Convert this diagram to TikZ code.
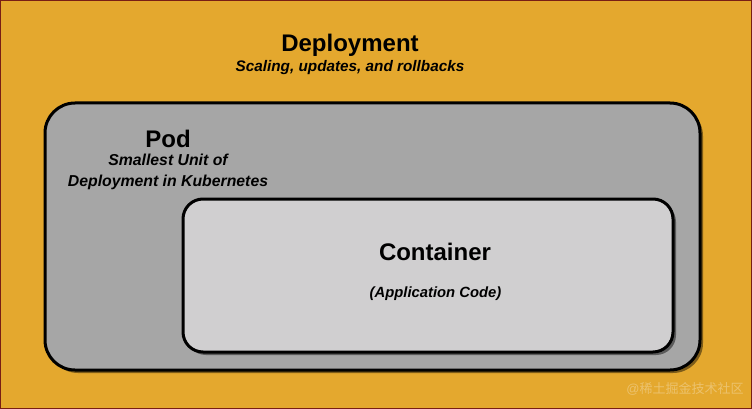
\documentclass[tikz,border=0pt]{standalone}
\usepackage{fontspec}
\setmainfont{Liberation Sans}
\newfontfamily\cjkfont{Noto Sans CJK SC}
\usetikzlibrary{shadows}
\definecolor{dep_orange}{RGB}{228, 168, 46}
\definecolor{dep_edge}{RGB}{120, 30, 20}
\definecolor{pod_gray}{RGB}{166, 166, 166}
\definecolor{ctr_gray}{RGB}{208, 207, 208}
\tikzstyle{podbox}=[rectangle,rounded corners=30pt,fill=pod_gray,draw=black,
  line width=3pt,minimum width=655pt,minimum height=267pt,
  drop shadow={shadow xshift=3pt,shadow yshift=-3pt,fill=black,opacity=0.45}]
\tikzstyle{ctrbox}=[rectangle,rounded corners=20pt,fill=ctr_gray,draw=black,
  line width=3pt,minimum width=490pt,minimum height=153pt,
  drop shadow={shadow xshift=3pt,shadow yshift=-3pt,fill=black,opacity=0.45}]
\tikzstyle{title}=[inner sep=0pt,font=\fontsize{24}{28}\selectfont\bfseries]
\tikzstyle{sub}=[inner sep=0pt,align=center,font=\fontsize{15.8}{21}\selectfont\bfseries\itshape]
\begin{document}
\begin{tikzpicture}[x=1pt,y=-1pt]
        \fill [dep_orange] (0,0) rectangle (752,409);
        \draw [dep_edge,line width=1pt] (0.5,0.5) rectangle (751.5,408.5);
        \useasboundingbox (0,0) rectangle (752,409);
        \node [style=title] (dep) at (350,45) {Deployment};
        \node [style=sub,font=\fontsize{15.3}{18}\selectfont\bfseries\itshape] (depsub) at (350,68) {Scaling, updates, and rollbacks};
        \node [style=podbox] (pod) at (372.5,236.5) {};
        \node [style=title] (podt) at (168,139) {Pod};
        \node [style=sub] (podsub) at (168,172) {Smallest Unit of\\Deployment in Kubernetes};
        \node [style=ctrbox] (ctr) at (428,275.5) {};
        \node [style=title] (ctrt) at (435,252) {Container};
        \node [style=sub,font=\fontsize{14.8}{17}\selectfont\bfseries\itshape] (ctrsub) at (435.5,294) {(Application Code)};
        \node [text=white,opacity=0.3,inner sep=0pt,font=\fontsize{13}{15}\selectfont] (mark) at (685,389) {@{\cjkfont 稀土掘金技术社区}};
    \end{tikzpicture}
\end{document}
